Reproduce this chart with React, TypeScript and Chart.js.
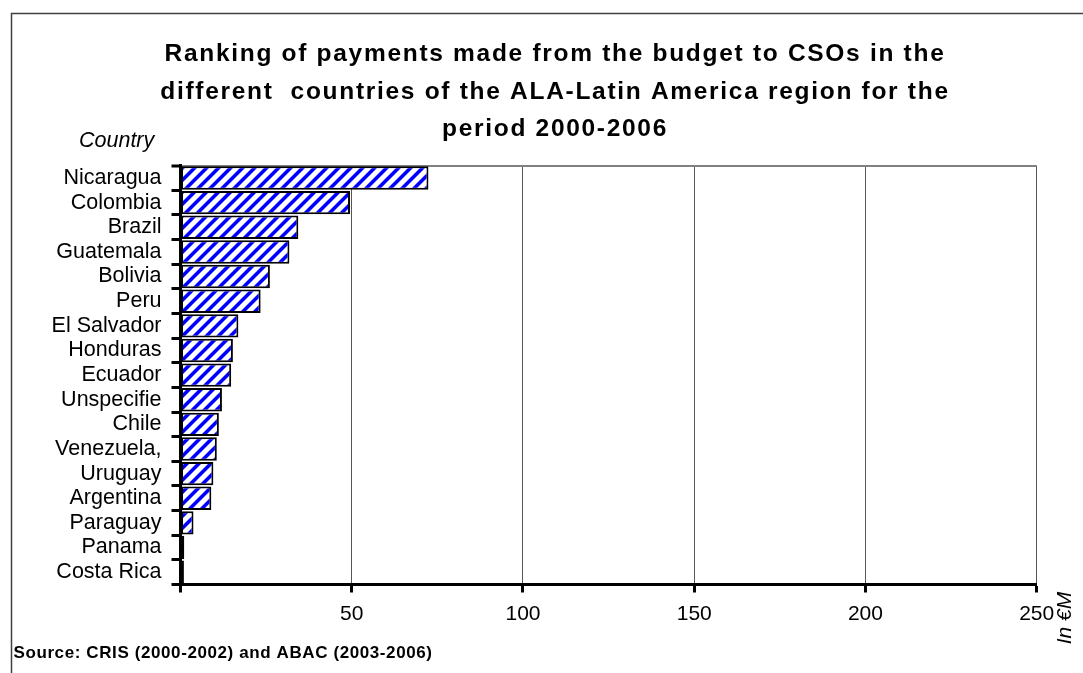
import { useEffect, useRef } from 'react';
import { Chart, registerables } from 'chart.js';

Chart.register(...registerables);

const titleLines = [
  'Ranking of payments made from the budget to CSOs in the',
  'different  countries of the ALA-Latin America region for the',
  'period 2000-2006',
];
const categories = [
  'Nicaragua', 'Colombia', 'Brazil', 'Guatemala', 'Bolivia', 'Peru', 'El Salvador',
  'Honduras', 'Ecuador', 'Unspecifie', 'Chile', 'Venezuela,', 'Uruguay', 'Argentina',
  'Paraguay', 'Panama', 'Costa Rica',
];
const values = [72.4, 49.5, 34.4, 31.8, 26.1, 23.4, 16.9, 15.3, 14.8, 12.1, 11.2, 10.6, 9.6, 9.0, 3.8, 1.1, 1.0];
const tickValues = [50, 100, 150, 200, 250];
const axisMin = 0;
const axisMax = 250;
const axisStep = 50;
const yCaption = 'Country';
const unitCaption = 'In €M';
const sourceText = 'Source: CRIS (2000-2002) and ABAC (2003-2006)';

const FONT = '"Liberation Sans", Arial, Helvetica, sans-serif';

function makePattern(): CanvasPattern | string {
  const P = 12;
  const tile = document.createElement('canvas');
  tile.width = P;
  tile.height = P;
  const c = tile.getContext('2d');
  if (!c) return '#0000ff';
  const img = c.createImageData(P, P);
  for (let y = 0; y < P; y++) {
    for (let x = 0; x < P; x++) {
      const k = (x + y) % P;
      const i = (y * P + x) * 4;
      let r = 255, g = 255, b = 255;
      if (k < 4) { r = 0; g = 0; b = 255; }
      else if (k === 4 || k === P - 1) { r = 120; g = 120; b = 255; }
      img.data[i] = r; img.data[i + 1] = g; img.data[i + 2] = b; img.data[i + 3] = 255;
    }
  }
  c.putImageData(img, 0, 0);
  const main = document.createElement('canvas').getContext('2d');
  const pat = main ? main.createPattern(tile, 'repeat') : null;
  return pat || '#0000ff';
}

const decorations = {
  id: 'decorations',
  afterDraw(chart: any) {
    const ctx = chart.ctx as CanvasRenderingContext2D;
    ctx.save();
    // outer frame
    ctx.strokeStyle = '#404040';
    ctx.lineWidth = 1.5;
    ctx.strokeRect(11.5, 13.5, 1300, 1300);

    // title
    ctx.fillStyle = '#000';
    ctx.font = `bold 24.5px ${FONT}`;
    ctx.textAlign = 'center';
    ctx.textBaseline = 'alphabetic';
    try { (ctx as any).letterSpacing = '1.7px'; } catch (e) {}
    const baselines = [61, 98.5, 136];
    titleLines.forEach((t, i) => ctx.fillText(t, 555, baselines[i]));
    try { (ctx as any).letterSpacing = '0px'; } catch (e) {}

    // Country caption
    ctx.font = `italic 21.5px ${FONT}`;
    ctx.textAlign = 'left';
    ctx.fillText(yCaption, 79, 146.5);

    // unit caption rotated
    ctx.save();
    ctx.translate(1071, 618);
    ctx.rotate(-Math.PI / 2);
    ctx.textAlign = 'center';
    ctx.font = `italic 21px ${FONT}`;
    ctx.fillText(unitCaption, 0, 0);
    ctx.restore();

    // source
    ctx.font = `bold 17px ${FONT}`;
    ctx.textAlign = 'left';
    try { (ctx as any).letterSpacing = '0.6px'; } catch (e) {}
    ctx.fillText(sourceText, 13.5, 658);
    try { (ctx as any).letterSpacing = '0px'; } catch (e) {}
    ctx.restore();
  },
};

export default function App() {
  const ref = useRef<HTMLCanvasElement | null>(null);

  useEffect(() => {
    if (!ref.current) return;
    const pattern = makePattern();
    const chart = new Chart(ref.current, {
      type: 'bar',
      data: {
        labels: categories,
        datasets: [
          {
            data: values,
            backgroundColor: pattern as any,
            borderColor: '#000',
            borderWidth: 2,
            borderSkipped: false,
            categoryPercentage: 1,
            barPercentage: 0.95,
          },
        ],
      },
      options: {
        indexAxis: 'y',
        responsive: false,
        animation: false,
        layout: { padding: { left: 0, top: 165.7, right: 46.3, bottom: 0 } },
        plugins: {
          legend: { display: false },
          title: { display: false },
          tooltip: { enabled: false },
        },
        scales: {
          x: {
            type: 'linear',
            min: axisMin,
            max: axisMax,
            afterFit: (s: any) => { s.height = 673 - 584.5; },
            afterBuildTicks: (s: any) => {
              s.ticks = [axisMin, ...tickValues].map((v) => ({ value: v }));
            },
            ticks: {
              stepSize: axisStep,
              color: '#000',
              font: { family: FONT, size: 21 },
              padding: 9,
              callback: (v: any) => (tickValues.includes(Number(v)) ? String(v) : ''),
            },
            grid: {
              color: '#555',
              lineWidth: 1,
              tickLength: 8,
              tickColor: '#000',
              tickWidth: 3,
            },
            border: { display: true, color: '#000', width: 3 },
          },
          y: {
            type: 'category',
            offset: true,
            afterFit: (s: any) => { s.width = 180.5; },
            ticks: {
              autoSkip: false,
              color: '#000',
              font: { family: FONT, size: 21.5 },
              padding: 10,
            },
            grid: {
              offset: true,
              drawOnChartArea: true,
              color: (c: any) => (c.index === 0 ? '#808080' : 'rgba(0,0,0,0)'),
              lineWidth: (c: any) => (c.index === 0 ? 2 : 1),
              tickLength: 9,
              tickColor: '#000',
              tickWidth: 3,
            },
            border: { display: true, color: '#000', width: 3 },
          },
        },
      },
      plugins: [decorations],
    });
    return () => chart.destroy();
  }, []);

  return (
    <div style={{ position: 'absolute', left: 0, top: 0, width: 1083, height: 673, background: '#fff' }}>
      <canvas ref={ref} width={1083} height={673} style={{ width: 1083, height: 673, display: 'block' }} />
    </div>
  );
}
